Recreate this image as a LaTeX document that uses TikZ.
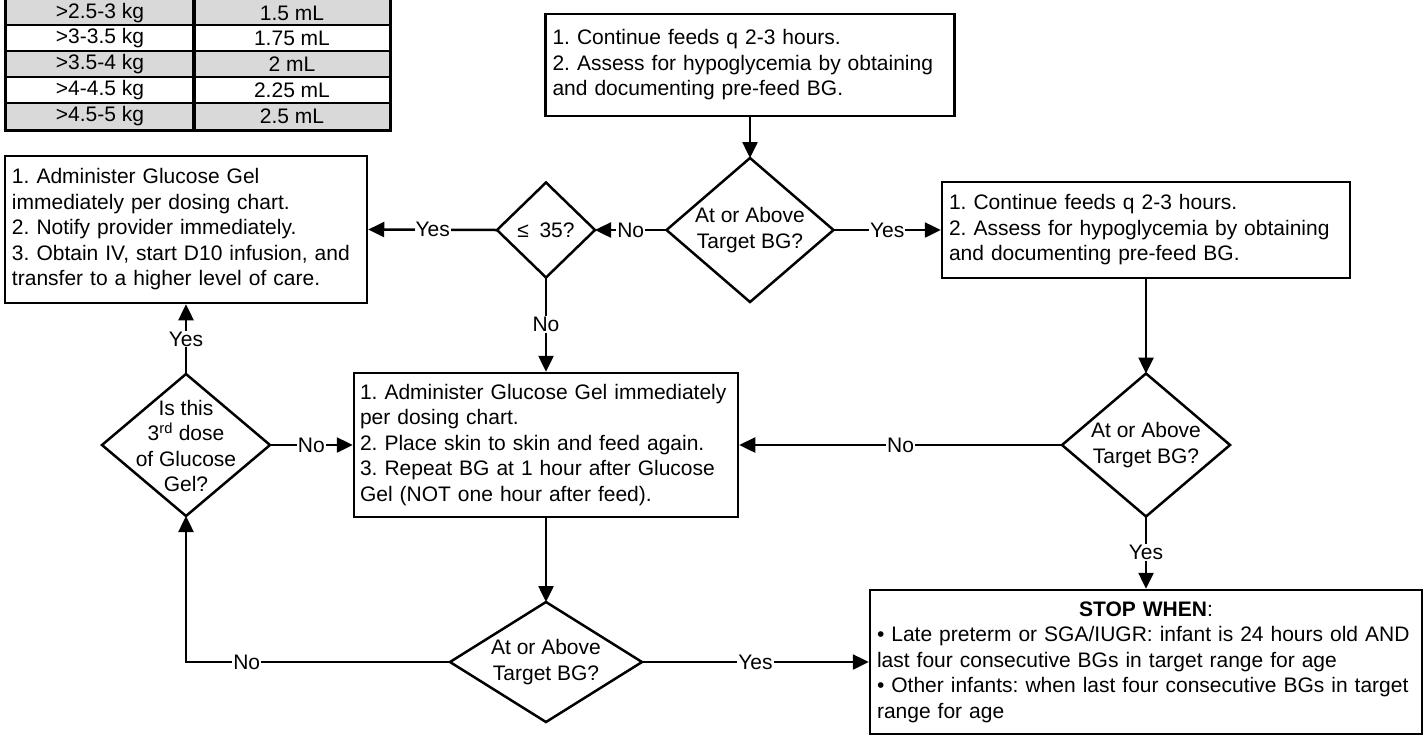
\documentclass[tikz,border=0pt]{standalone}
\usepackage{fontspec}
\setmainfont{Liberation Sans}
\usetikzlibrary{shapes.geometric,arrows.meta}
\definecolor{tabgrey}{HTML}{D9D9D9}
\frenchspacing
\begin{document}
\begin{tikzpicture}[x=1pt,y=-1pt,
  every node/.style={font=\fontsize{21}{25.5}\selectfont},
  box/.style={draw, line width=2.5pt, inner xsep=7pt, inner ysep=0pt, align=left},
  dia/.style={draw, diamond, line width=2.5pt, inner sep=0pt, outer sep=0pt},
  dtext/.style={align=center, inner sep=0pt},
  lab/.style={fill=white, inner sep=1pt},
  arr/.style={line width=2.5pt, -{Triangle[length=16pt,width=15pt]}},
  tabtext/.style={inner sep=0pt}]
\useasboundingbox (0,0) rectangle (1427,740);

% dosing table
\fill[tabgrey] (5,-5) rectangle (390,25);
\fill[tabgrey] (5,51) rectangle (390,77);
\fill[tabgrey] (5,103) rectangle (390,130);
\draw[line width=2pt] (5,25) -- (390,25) (5,51) -- (390,51) (5,77) -- (390,77) (5,103) -- (390,103);
\draw[line width=4pt] (194,-5) -- (194,130);
\draw[line width=3pt] (5,-5) -- (5,130) -- (390,130) -- (390,-5);
\node[tabtext] (ta1) at (100,13) {>2.5-3 kg};
\node[tabtext] (tb1) at (292,13) {1.5 mL};
\node[tabtext] (ta2) at (100,38) {>3-3.5 kg};
\node[tabtext] (tb2) at (292,38) {1.75 mL};
\node[tabtext] (ta3) at (100,64) {>3.5-4 kg};
\node[tabtext] (tb3) at (292,64) {2 mL};
\node[tabtext] (ta4) at (100,90) {>4-4.5 kg};
\node[tabtext] (tb4) at (292,90) {2.25 mL};
\node[tabtext] (ta5) at (100,116.5) {>4.5-5 kg};
\node[tabtext] (tb5) at (292,116.5) {2.5 mL};

% boxes
\node[box, minimum width=409pt, minimum height=102pt, text width=395pt] (top) at (750,65)
  {1. Continue feeds q 2-3 hours.\\2. Assess for hypoglycemia by obtaining\\and documenting pre-feed BG.};
\node[box, minimum width=408pt, minimum height=96pt, text width=394pt] (r1) at (1146,230)
  {1. Continue feeds q 2-3 hours.\\2. Assess for hypoglycemia by obtaining\\and documenting pre-feed BG.};
\node[box, minimum width=362pt, minimum height=147pt, text width=348pt] (l1) at (186,229.5)
  {1. Administer Glucose Gel\\immediately per dosing chart.\\2. Notify provider immediately.\\3. Obtain IV, start D10 infusion, and\\transfer to a higher level of care.};
\node[box, inner xsep=6pt, minimum width=384pt, minimum height=144pt, text width=372pt] (m) at (546,445)
  {1. Administer Glucose Gel immediately\\per dosing chart.\\2. Place skin to skin and feed again.\\3. Repeat BG at 1 hour after Glucose\\Gel (NOT one hour after feed).};
\node[box, minimum width=552pt, minimum height=144pt, text width=538pt] (s) at (1146,662)
  {\makebox[538pt][c]{\textbf{STOP WHEN}:}\\
   • Late preterm or SGA/IUGR: infant is 24 hours old AND\\
   last four consecutive BGs in target range for age\\
   • Other infants: when last four consecutive BGs in target\\
   range for age};

% diamonds
\node[dia, minimum width=167pt, minimum height=144pt] (d1) at (750,230) {};
\node[dtext] (d1t) at (750,230) {At or Above\\Target BG?};
\node[dia, minimum width=98pt, minimum height=95pt] (d2) at (546,230) {};
\node[dtext] (d2t) at (546,230) {≤\hspace{0.5em}35?};
\node[dia, minimum width=168pt, minimum height=143pt] (d3) at (1146,445) {};
\node[dtext] (d3t) at (1146,445) {At or Above\\Target BG?};
\node[dia, minimum width=168pt, minimum height=142pt] (d5) at (186,445) {};
\node[dtext] (d5t) at (186,446) {Is this\\3\textsuperscript{rd} dose\\of Glucose\\Gel?};
\node[dia, minimum width=192pt, minimum height=120pt] (d4) at (546,662) {};
\node[dtext] (d4t) at (546,662) {At or Above\\Target BG?};

% connectors
\draw[arr] (top.south) -- (d1.north);
\draw[arr] (d1.west) -- node[lab]{No} (d2.east);
\draw[arr] (d1.east) -- node[lab]{Yes} (r1.west);
\draw[arr] (d2.west) -- node[lab]{Yes} (l1.east);
\draw[arr] (d2.south) -- node[lab]{No} (m.north);
\draw[arr] (r1.south) -- (d3.north);
\draw[arr] (d3.west) -- node[lab]{No} (m.east);
\draw[arr] (d3.south) -- node[lab]{Yes} (s.north);
\draw[arr] (m.south) -- (d4.north);
\draw[arr] (d4.east) -- node[lab]{Yes} (s.west);
\draw[arr] (d4.west) -| node[lab,pos=0.385]{No} (d5.south);
\draw[arr] (d5.north) -- node[lab]{Yes} (l1.south);
\draw[arr] (d5.east) -- node[lab]{No} (m.west);
\end{tikzpicture}
\end{document}
